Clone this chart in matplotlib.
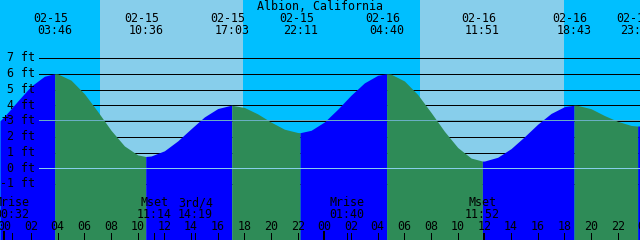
import matplotlib
matplotlib.use("Agg")
import matplotlib.pyplot as plt
import matplotlib.transforms as mtrans
import numpy as np

# ---------------- data ----------------
title = "Albion, California"

# tide extremes
event_dates = ["02-15", "02-15", "02-15", "02-15", "02-16", "02-16", "02-16", "02-16"]
event_times = ["03:46", "10:36", "17:03", "22:11", "04:40", "11:51", "18:43", "23:30"]
event_ft = [6.0, 0.75, 4.0, 2.26, 6.0, 0.46, 4.0, 2.68]

# tide curve readings (hours since 02-15 00:00, height in ft)
curve_h = [-0.33, 0, 1, 2, 3, 3.77, 4, 5, 6, 7, 8, 9, 10, 10.6, 11, 12, 13, 14, 15, 16, 17,
           17.05, 18, 19, 20, 21, 22, 22.18, 23, 24, 25, 26, 27, 28, 28.67, 29, 30, 31, 32,
           33, 34, 35, 35.85, 36, 37, 38, 39, 40, 41, 42, 42.72, 43, 44, 45, 46, 47, 47.5, 47.67]
curve_ft = [3.01, 3.29, 4.27, 5.21, 5.84, 6.00, 5.99, 5.59, 4.73, 3.60, 2.41, 1.42, 0.85, 0.75,
            0.78, 1.11, 1.74, 2.51, 3.26, 3.79, 4.00, 4.00, 3.86, 3.45, 2.93, 2.48, 2.27, 2.26,
            2.41, 2.94, 3.75, 4.64, 5.42, 5.90, 6.00, 5.97, 5.54, 4.68, 3.54, 2.35, 1.32, 0.65,
            0.46, 0.46, 0.70, 1.25, 2.00, 2.80, 3.48, 3.91, 4.00, 3.99, 3.78, 3.35, 2.98, 2.72,
            2.68, 2.69]

# daylight periods (hours since 02-15 00:00)
sunrise_h = [7.17, 31.17]
sunset_h = [17.90, 41.97]

# moon events
moon_labels = ["Mrise", "Mset", "3rd/4", "Mrise", "Mset"]
moon_times = ["00:32", "11:14", "14:19", "01:40", "11:52"]
moon_day = [0, 0, 0, 1, 1]

y_levels_ft = [7, 6, 5, 4, 3, 2, 1, 0, -1]
datum_ft = 0.0
msl_ft = 3.05
hour_ticks = list(range(0, 49, 2))

# ---------------- style ----------------
NIGHT = "#00BFFF"
DAY = "#87CEEB"
RISE = "#0000FF"
FALL = "#2E8B57"
DATUM_C = "#87CEEB"
MSL_C = "#6AAFC4"
FONT = "DejaVu Sans Mono"
FS = 8.4
LW = 0.5

W, H = 640, 240
X0, PXH = 4.4, 13.333      # pixel of 02-15 00:00, pixels per hour
Y0, PXF = 168.3, 15.76     # pixel of 0 ft, pixels per foot


def hh(day, s):
    a, b = s.split(":")
    return day * 24 + int(a) + int(b) / 60.0


def px2h(px):
    return (px - X0) / PXH


def py2ft(py):
    return (Y0 - py) / PXF


fig = plt.figure(figsize=(W / 100, H / 100), dpi=100, facecolor=NIGHT)
ax = fig.add_axes([0, 0, 1, 1])
ax.set_facecolor(NIGHT)
xmin, xmax = px2h(0), px2h(W)
ymin, ymax = py2ft(H), py2ft(0)
ax.set_xlim(xmin, xmax)
ax.set_ylim(ymin, ymax)
for s in ax.spines.values():
    s.set_visible(False)
ax.set_xticks([])
ax.set_yticks([])

# day bands
for a, b in zip(sunrise_h, sunset_h):
    ax.axvspan(a, b, color=DAY, lw=0, antialiased=False, zorder=0)

# level lines (behind water)
ax.hlines([v for v in y_levels_ft if v != 0], px2h(39), xmax, colors="black",
          lw=LW, zorder=1, antialiased=False)

# water fill, colored by rising / falling
ev_h = [hh(0 if d == "02-15" else 1, t) for d, t in zip(event_dates, event_times)]
ch = np.array(curve_h)
cf = np.array(curve_ft)
bounds = [xmin] + ev_h + [xmax]
for a, b in zip(bounds[:-1], bounds[1:]):
    m = (ch >= a - 0.02) & (ch <= b + 0.02)
    xs, ys = ch[m], cf[m]
    if len(xs) < 2:
        continue
    col = RISE if ys[-1] > ys[0] else FALL
    ax.fill_between(xs, ys, ymin, color=col, lw=0, antialiased=False, zorder=2)

# datum and mean sea level lines
ax.hlines([datum_ft], px2h(39), xmax, colors=DATUM_C, lw=LW, zorder=3, antialiased=False)
ax.hlines([msl_ft], px2h(39), xmax, colors=MSL_C, lw=LW, zorder=3, antialiased=False)

fx = mtrans.blended_transform_factory(ax.transData, fig.transFigure)


def fy(py):
    return 1 - py / H


# title
fig.text(320 / W, fy(10), title, ha="center", va="baseline", family=FONT, fontsize=FS)

# tide event labels
for h, d, t in zip(ev_h, event_dates, event_times):
    ax.text(h - 3.7 / PXH, fy(21.7), d, transform=fx, ha="center", va="baseline",
            family=FONT, fontsize=FS, clip_on=False)
    ax.text(h, fy(34.3), t, transform=fx, ha="center", va="baseline",
            family=FONT, fontsize=FS, clip_on=False)

# level labels
for v in y_levels_ft:
    py = Y0 - v * PXF
    fig.text(35 / W, fy(py + 3.3), f"{v} ft", ha="right", va="baseline",
             family=FONT, fontsize=FS)
fig.text(5 / W, fy(Y0 - msl_ft * PXF + 2.2), "+", ha="center", va="baseline",
         family=FONT, fontsize=FS)

# moon events
moon_h = [hh(d, t) for d, t in zip(moon_day, moon_times)]
for h, lab, t in zip(moon_h, moon_labels, moon_times):
    ax.text(h, fy(206), lab, transform=fx, ha="center", va="baseline",
            family=FONT, fontsize=FS, clip_on=False)
    ax.text(h, fy(217.7), t, transform=fx, ha="center", va="baseline",
            family=FONT, fontsize=FS, clip_on=False)

# hour labels and ticks
for h in hour_ticks:
    ax.text(h, fy(230), f"{h % 24:02d}", transform=fx, ha="center", va="baseline",
            family=FONT, fontsize=FS, clip_on=False)
thin = [h for h in hour_ticks if h % 24 != 0] + moon_h
ax.vlines(thin, py2ft(240), py2ft(232.5), colors="black", lw=LW, zorder=4,
          antialiased=False)
ax.vlines([0, 24, 48], py2ft(240), py2ft(231), colors="black", lw=1.4, zorder=4,
          antialiased=False)

fig.savefig("out.png", dpi=100, facecolor=NIGHT)
